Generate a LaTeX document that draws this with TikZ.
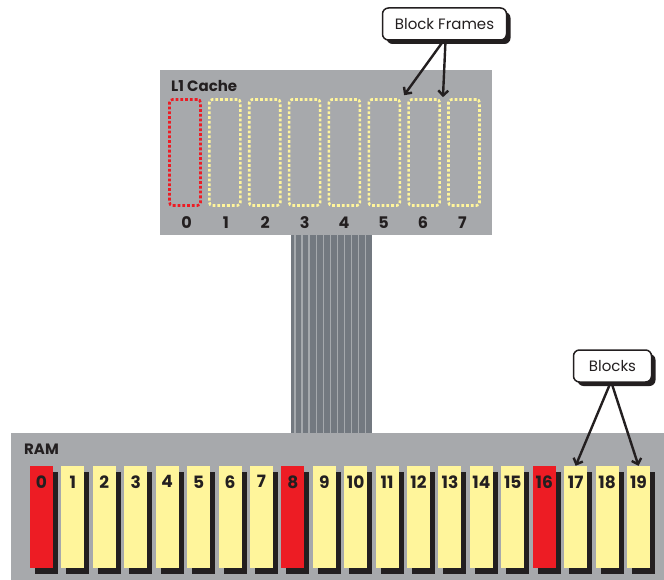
\documentclass[tikz,border=0pt]{standalone}
\usepackage{fontspec}
\setmainfont{Poppins}
\usetikzlibrary{arrows.meta,shadows}
\definecolor{boxgray}{RGB}{167,169,172}
\definecolor{blockyellow}{RGB}{255,245,155}
\definecolor{blockred}{RGB}{237,28,36}
\definecolor{ink}{RGB}{35,31,32}
\definecolor{busdark}{RGB}{115,121,128}
\definecolor{buslight}{RGB}{165,169,173}
\tikzset{
  panel/.style={fill=boxgray, inner sep=0pt, anchor=north west},
  panellbl/.style={font=\bfseries\fontsize{15}{15}\selectfont, text=ink, anchor=west, inner sep=0pt},
  cacheframe/.style={draw=#1, line width=2.6pt, dash pattern=on 2.8pt off 2pt, rounded corners=3pt,
    minimum width=31pt, minimum height=106pt, inner sep=0pt},
  cachelbl/.style={font=\bfseries\fontsize{16}{16}\selectfont, text=ink, inner sep=0pt},
  ramblock/.style={inner sep=0pt, minimum width=23pt, minimum height=102pt,
    drop shadow={shadow xshift=5pt, shadow yshift=-6pt, fill=ink, opacity=1}},
  ramlbl/.style={font=\bfseries\fontsize{17}{17}\selectfont, text=ink, inner sep=0pt},
  callout/.style={draw=ink, line width=1.5pt, fill=white, rounded corners=6pt, inner sep=0pt,
    font=\fontsize{15}{15}\selectfont, text=ink,
    drop shadow={shadow xshift=4pt, shadow yshift=-4pt, fill=ink, opacity=1}},
  pointer/.style={draw=ink, line width=2.4pt, -{Straight Barb[length=5pt,width=10pt]}}
}
\begin{document}
\begin{tikzpicture}[x=1pt,y=-1pt]
\useasboundingbox (0,0) rectangle (664,580);
% bus
\fill[busdark] (291,232) rectangle (372,436);
\foreach \k in {0,...,10}
  \draw[buslight, line width=1.4pt] ({295+7.07*\k},232) -- ({295+7.07*\k},436);
% panels
\node[panel, minimum width=332pt, minimum height=165pt] (l1) at (160,70) {};
\node[panel, minimum width=653pt, minimum height=150pt] (ram) at (11,433) {};
\node[panellbl] (l1lbl) at (171,86) {L1 Cache};
\node[panellbl] (ramlbl) at (24,449) {RAM};
% cache frames
\node[cacheframe=blockred] (f0) at (185,152.5) {};
\foreach \i in {1,...,7}
  \node[cacheframe=blockyellow] (f\i) at ({185+39.86*\i},152.5) {};
\foreach \i in {0,...,7}
  \node[cachelbl] (c\i) at ({186.5+39.4*\i},223) {\i};
% RAM blocks
\foreach \i in {0,...,19}{
  \pgfmathtruncatemacro\m{mod(\i,8)}
  \ifnum\m=0 \def\col{blockred}\else\def\col{blockyellow}\fi
  \node[ramblock, fill=\col] (b\i) at ({41.5+31.42*\i},517) {};
  \node[ramlbl] (t\i) at ([yshift=-16pt]b\i.north) {\i};
}
% callouts
\node[callout, minimum width=124pt, minimum height=32pt] (cf) at (444.5,24) {Block Frames};
\node[callout, minimum width=78pt, minimum height=32pt] (cb) at (612.5,366) {Blocks};
\draw[pointer] ([xshift=-1pt]cf.south) -- ([xshift=3pt,yshift=3pt]f5.north east);
\draw[pointer] ([xshift=1pt]cf.south) -- ([xshift=2pt,yshift=1pt]f6.north east);
\draw[pointer] ([xshift=-2pt]cb.south) -- (b17.north);
\draw[pointer] ([xshift=-1pt]cb.south) -- (b19.north);
\end{tikzpicture}
\end{document}
